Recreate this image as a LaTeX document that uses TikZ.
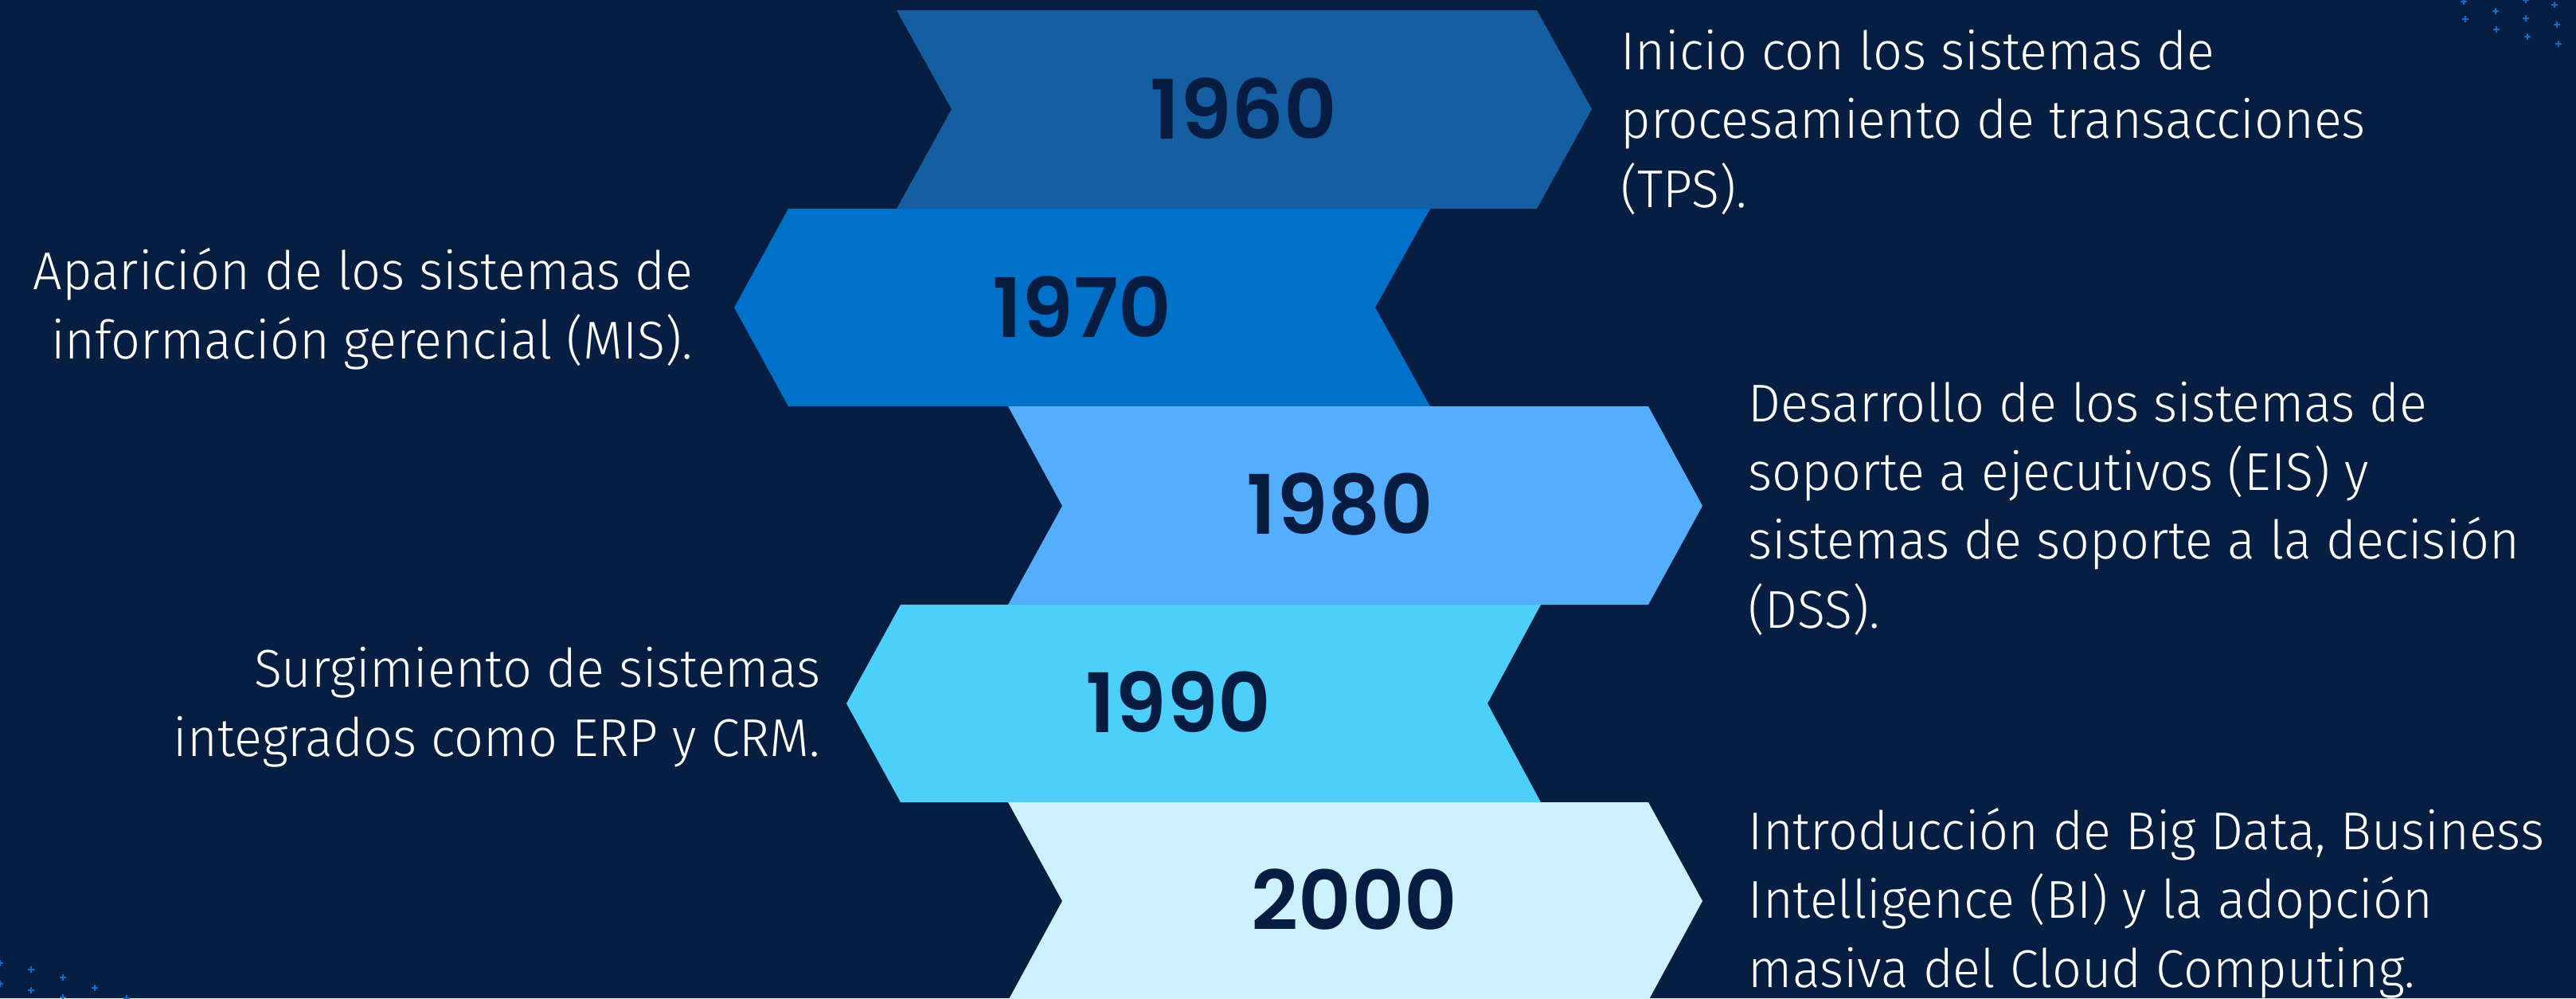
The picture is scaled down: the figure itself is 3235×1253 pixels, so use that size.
\documentclass[tikz,border=0pt]{standalone}
\usepackage{fontspec}
\newfontfamily\yearfont{Poppins}[UprightFont={* SemiBold}]
\newfontfamily\descfont{Fira Sans}[UprightFont={* Light}, FakeStretch=0.97]

\definecolor{navy}{HTML}{061E42}
\definecolor{band60}{HTML}{155EA2}
\definecolor{band70}{HTML}{0071C9}
\definecolor{band80}{HTML}{54ADFD}
\definecolor{band90}{HTML}{4CCFFB}
\definecolor{band00}{HTML}{CDF1FE}
\definecolor{yearink}{HTML}{061D41}
\definecolor{sparkle}{HTML}{0C6FD0}

\begin{document}
\begin{tikzpicture}[x=0.01cm, y=-0.01cm,
    year/.style={font=\yearfont\fontsize{29.3}{32}\selectfont, text=yearink, inner sep=0pt},
    desc/.style={font=\descfont\fontsize{19}{24.5}\selectfont, text=white, inner sep=0pt}]
    % Background
    \fill[navy] (0,0) rectangle (3235,1253);
    \useasboundingbox (0,0) rectangle (3235,1253);

    % Sparkles, top right and bottom left
    \foreach \px/\py in {3094/2, 3096/24, 3134/14, 3135/37, 3172/0, 3172/23, 3174/46,
                         3208/6, 3211/31, 3213/55,
                         0/1209, 0/1235, 39/1217, 39/1243, 79/1227, 79/1252, 119/1240, 159/1253}
        \draw[sparkle, line width=0.6pt] (\px-4,\py) -- (\px+4,\py) (\px,\py-4) -- (\px,\py+4);

    % Chevrons
    \fill[band60] (1126,13) -- (1930,13) -- (1999,137) -- (1930,262) -- (1126,262) -- (1195,137) -- cycle;
    \fill[band70] (990,262) -- (1796,262) -- (1727,386) -- (1796,510) -- (990,510) -- (922,386) -- cycle;
    \fill[band80] (1266,510) -- (2070,510) -- (2138,635) -- (2070,759) -- (1266,759) -- (1334,635) -- cycle;
    \fill[band90] (1131,759) -- (1935,759) -- (1868,883) -- (1935,1007) -- (1131,1007) -- (1063,883) -- cycle;
    \fill[band00] (1266,1007) -- (2070,1007) -- (2138,1131) -- (2070,1256) -- (1266,1256) -- (1334,1131) -- cycle;

    % Years
    \node[year] (y1960) at (1562,136) {1960};
    \node[year] (y1970) at (1359,385) {1970};
    \node[year] (y1980) at (1683,633) {1980};
    \node[year] (y1990) at (1480,881) {1990};
    \node[year] (y2000) at (1701,1129) {2000};

    % Descriptions (anchored at the last line's baseline)
    \node[desc, anchor=base west, align=left] (t1960) at (2035,260)
        {Inicio con los sistemas de\\procesamiento de transacciones\\(TPS).};
    \node[desc, anchor=base east, align=right] (t1970) at (871,450)
        {Aparición de los sistemas de\\información gerencial (MIS).};
    \node[desc, anchor=base west, align=left] (t1980) at (2195,788)
        {Desarrollo de los sistemas de\\soporte a ejecutivos (EIS) y\\sistemas de soporte a la decisión\\(DSS).};
    \node[desc, anchor=base east, align=right] (t1990) at (1031,949)
        {Surgimiento de sistemas\\integrados como ERP y CRM.};
    \node[desc, anchor=base west, align=left] (t2000) at (2195,1239)
        {Introducción de Big Data, Business\\Intelligence (BI) y la adopción\\masiva del Cloud Computing.};
\end{tikzpicture}
\end{document}
